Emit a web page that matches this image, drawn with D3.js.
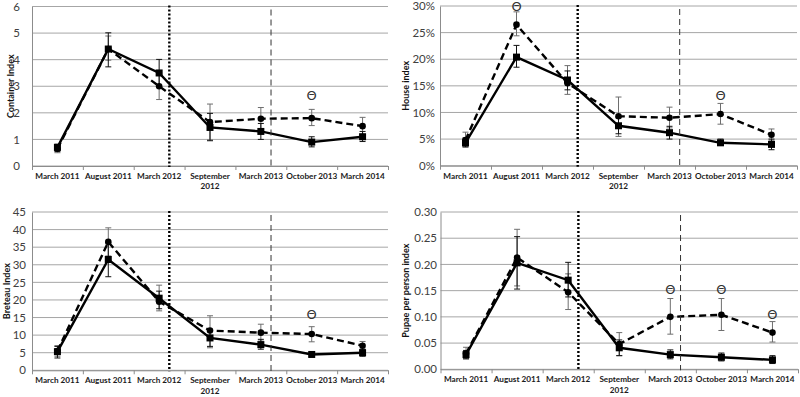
<!DOCTYPE html>
<html><head><meta charset="utf-8">
<script src="https://cdn.jsdelivr.net/npm/d3@7"></script>
<style>body{margin:0;background:#fff}svg{display:block}</style>
</head><body>
<svg id="chart" width="800" height="397"></svg>
<script>
// ---------- data ----------
const categories = ["March 2011","August 2011","March 2012","September 2012","March 2013","October 2013","March 2014"];

// Container Index
const ciTicks = [0,1,2,3,4,5,6];
const ciSolid = [0.70,4.40,3.50,1.45,1.30,0.90,1.10];
const ciSolidLow = [0.55,3.73,3.00,0.95,1.00,0.72,0.92];
const ciSolidHigh = [0.82,5.01,4.01,1.98,1.60,1.10,1.30];
const ciDashed = [0.65,4.40,3.00,1.65,1.78,1.80,1.50];
const ciDashedLow = [0.50,3.98,2.50,0.98,1.35,1.52,1.20];
const ciDashedHigh = [0.80,4.89,3.50,2.33,2.20,2.13,1.83];
const ciTheta = [null,null,null,null,null,2.64,null];

// House index
const hiTicks = [0,0.05,0.10,0.15,0.20,0.25,0.30];
const hiSolid = [0.043,0.204,0.161,0.075,0.062,0.043,0.040];
const hiSolidLow = [0.035,0.185,0.1425,0.060,0.050,0.038,0.030];
const hiSolidHigh = [0.052,0.226,0.178,0.090,0.074,0.050,0.050];
const hiDashed = [0.048,0.265,0.155,0.093,0.090,0.097,0.058];
const hiDashedLow = [0.036,0.244,0.134,0.055,0.071,0.078,0.048];
const hiDashedHigh = [0.063,0.289,0.188,0.129,0.110,0.117,0.069];
const hiTheta = [null,0.30,null,null,null,0.131,null];

// Breteau Index
const biTicks = [0,5,10,15,20,25,30,35,40,45];
const biSolid = [5.3,31.5,20.5,9.2,7.3,4.5,5.0];
const biSolidLow = [3.5,26.6,17.5,6.8,6.0,4.0,4.0];
const biSolidHigh = [6.8,36.4,22.5,11.5,8.8,5.1,6.0];
const biDashed = [5.5,36.5,19.5,11.3,10.7,10.3,7.0];
const biDashedLow = [4.0,32.5,16.9,6.4,8.3,8.1,5.8];
const biDashedHigh = [7.0,40.5,24.2,15.5,13.1,12.4,8.2];
const biTheta = [null,null,null,null,null,16.0,null];

// Pupae per person index
const ppTicks = [0,0.05,0.10,0.15,0.20,0.25,0.30];
const ppSolid = [0.028,0.203,0.170,0.041,0.028,0.023,0.018];
const ppSolidLow = [0.020,0.153,0.138,0.026,0.020,0.016,0.011];
const ppSolidHigh = [0.036,0.253,0.204,0.056,0.037,0.031,0.026];
const ppDashed = [0.030,0.213,0.147,0.048,0.100,0.104,0.070];
const ppDashedLow = [0.020,0.159,0.114,0.026,0.067,0.074,0.052];
const ppDashedHigh = [0.042,0.267,0.182,0.070,0.135,0.135,0.091];
const ppTheta = [null,null,null,null,0.1526,0.1526,0.1036];

// reference lines, in category-index units
const dottedAt = 2.2;
const dashedAt = 4.2;

// ---------- layout ----------
const panels = [
  {title:"Container Index", ticks:ciTicks, fmt:d3.format("d"), s:ciSolid, sl:ciSolidLow, sh:ciSolidHigh, d:ciDashed, dl:ciDashedLow, dh:ciDashedHigh, th:ciTheta,
   x0:32, x1:388, y0:166, y1:6.5, titleX:10.5, labelRight:20},
  {title:"House index", ticks:hiTicks, fmt:d3.format(".0%"), s:hiSolid, sl:hiSolidLow, sh:hiSolidHigh, d:hiDashed, dl:hiDashedLow, dh:hiDashedHigh, th:hiTheta,
   x0:440, x1:797, y0:165.7, y1:6, titleX:405, labelRight:435},
  {title:"Breteau Index", ticks:biTicks, fmt:d3.format("d"), s:biSolid, sl:biSolidLow, sh:biSolidHigh, d:biDashed, dl:biDashedLow, dh:biDashedHigh, th:biTheta,
   x0:32, x1:388, y0:370.3, y1:212, titleX:6, labelRight:26},
  {title:"Pupae per person index", ticks:ppTicks, fmt:d3.format(".2f"), s:ppSolid, sl:ppSolidLow, sh:ppSolidHigh, d:ppDashed, dl:ppDashedLow, dh:ppDashedHigh, th:ppTheta,
   x0:440.5, x1:798, y0:369.3, y1:212, titleX:405, labelRight:437}
];

const svg = d3.select("#chart");
svg.append("rect").attr("width",800).attr("height",397).attr("fill","#fff");
const FONT = "Lato, 'Open Sans', sans-serif";

panels.forEach(p => {
  const g = svg.append("g");
  const x = d3.scaleBand().domain(categories).range([p.x0, p.x1]).padding(0);
  const xi = d3.scaleLinear().domain([0, categories.length]).range([p.x0, p.x1]);
  const y = d3.scaleLinear().domain([0, d3.max(p.ticks)]).range([p.y0, p.y1]);
  const cx = c => x(c) + x.bandwidth()/2;

  // gridlines
  g.append("g").selectAll("line").data(p.ticks).join("line")
    .attr("x1", p.x0).attr("x2", p.x1)
    .attr("y1", d => y(d)).attr("y2", d => y(d))
    .attr("stroke", "#a6a6a6").attr("stroke-width", 1);

  // left axis (labels)
  const ya = d3.axisLeft(y).tickValues(p.ticks).tickFormat(p.fmt).tickSize(0).tickPadding(p.x0 - p.labelRight);
  const yg = g.append("g").attr("transform", `translate(${p.x0},0)`).call(ya);
  yg.select(".domain").attr("stroke", "#8c8c8c");
  yg.selectAll("text").attr("font-family", FONT).attr("font-size", 11.5).attr("fill", "#404040");

  // bottom axis boundary ticks
  const xb = d3.axisBottom(xi).tickValues(d3.range(0, categories.length + 1)).tickFormat("").tickSize(4).tickSizeOuter(0);
  const xbg = g.append("g").attr("transform", `translate(0,${p.y0})`).call(xb);
  xbg.selectAll("line").attr("stroke", "#8c8c8c");
  xbg.select(".domain").attr("stroke", "#8c8c8c");

  // category labels
  const xa = d3.axisBottom(x).tickSize(0).tickPadding(7);
  const xg = g.append("g").attr("transform", `translate(0,${p.y0})`).call(xa);
  xg.select(".domain").remove();
  xg.selectAll("text").attr("font-family", FONT).attr("font-size", 8.2).attr("font-weight", "bold").attr("fill", "#1a1a1a")
    .each(function(d){
      const t = d3.select(this);
      if (this.getComputedTextLength() > x.bandwidth() + 4) {
        const words = d.split(" ");
        t.text(null);
        t.append("tspan").attr("x", 0).attr("dy", "0.71em").text(words.slice(0, -1).join(" "));
        t.append("tspan").attr("x", 0).attr("dy", "1.3em").text(words[words.length - 1]);
        t.attr("dy", null);
      }
    });

  // y title
  g.append("text").attr("transform", `translate(${p.titleX},${(p.y0 + p.y1)/2}) rotate(-90)`)
    .attr("text-anchor", "middle").attr("dominant-baseline", "central")
    .attr("font-family", FONT).attr("font-size", 9).attr("font-weight", "bold").attr("fill", "#111")
    .text(p.title);

  // error bars
  const cap = 3;
  function errBars(lo, hi, color) {
    const eg = g.append("g").attr("stroke", color).attr("stroke-width", 1);
    categories.forEach((c, i) => {
      const X = cx(c);
      eg.append("line").attr("x1", X).attr("x2", X).attr("y1", y(lo[i])).attr("y2", y(hi[i]));
      eg.append("line").attr("x1", X - cap).attr("x2", X + cap).attr("y1", y(lo[i])).attr("y2", y(lo[i]));
      eg.append("line").attr("x1", X - cap).attr("x2", X + cap).attr("y1", y(hi[i])).attr("y2", y(hi[i]));
    });
  }
  errBars(p.dl, p.dh, "#6e6e6e");
  errBars(p.sl, p.sh, "#111");

  const line = d3.line().x((d, i) => cx(categories[i])).y(d => y(d));
  g.append("path").datum(p.d).attr("d", line).attr("fill", "none")
    .attr("stroke", "#000").attr("stroke-width", 2.4).attr("stroke-dasharray", "7,4");
  g.append("path").datum(p.s).attr("d", line).attr("fill", "none")
    .attr("stroke", "#000").attr("stroke-width", 2.4);

  g.append("g").selectAll("circle").data(p.d).join("circle")
    .attr("cx", (d, i) => cx(categories[i])).attr("cy", d => y(d)).attr("r", 3.3).attr("fill", "#000");
  g.append("g").selectAll("rect").data(p.s).join("rect")
    .attr("x", (d, i) => cx(categories[i]) - 3.5).attr("y", d => y(d) - 3.5)
    .attr("width", 7).attr("height", 7).attr("fill", "#000");

  // reference vertical lines
  g.append("line").attr("x1", xi(dottedAt + 0.5)).attr("x2", xi(dottedAt + 0.5))
    .attr("y1", p.y1 - 1).attr("y2", p.y0 + 1)
    .attr("stroke", "#000").attr("stroke-width", 2.4).attr("stroke-dasharray", "2,2");
  g.append("line").attr("x1", xi(dashedAt + 0.5)).attr("x2", xi(dashedAt + 0.5))
    .attr("y1", p.y1 + 3).attr("y2", p.y0 + 1)
    .attr("stroke", "#333").attr("stroke-width", 1).attr("stroke-dasharray", "6,4");

  // significance markers
  g.append("g").selectAll("text").data(p.th.map((v, i) => ({v, i})).filter(d => d.v != null)).join("text")
    .attr("x", d => cx(categories[d.i])).attr("y", d => y(d.v))
    .attr("text-anchor", "middle").attr("dominant-baseline", "central")
    .attr("font-family", "'DejaVu Sans', sans-serif").attr("font-size", 13).attr("fill", "#333")
    .text("Θ");
});
</script>
</body></html>
